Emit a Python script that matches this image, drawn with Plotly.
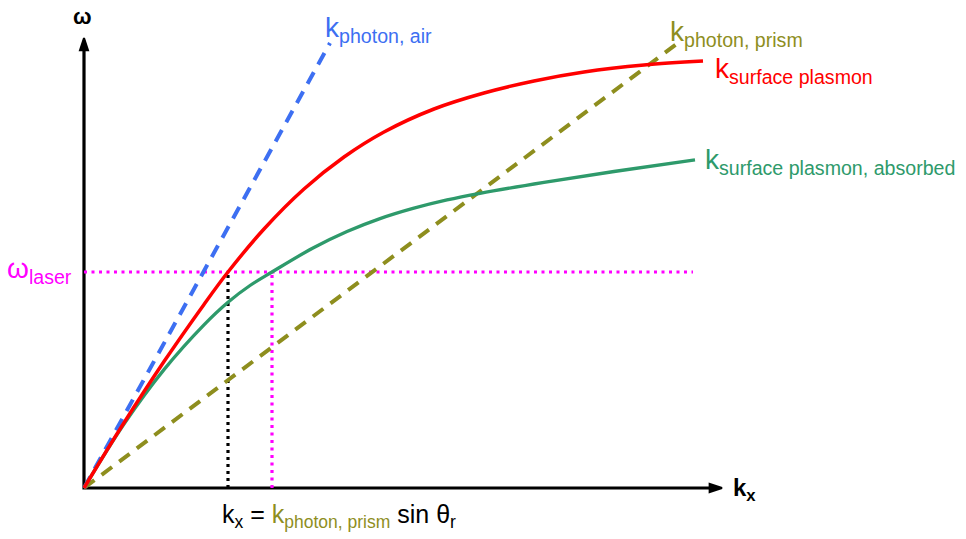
import plotly.graph_objects as go

# Dispersion curves, omega against k_x (arbitrary units)
kx_sp = [0.00, 0.40, 0.80, 1.20, 1.44, 1.80, 2.20, 2.60, 3.00, 3.50, 4.00, 4.50, 5.00, 5.60, 6.19]
w_sp = [0.00, 0.652, 1.264, 1.836, 2.16, 2.59, 2.99, 3.31, 3.56, 3.79, 3.95, 4.07, 4.16, 4.23, 4.27]

kx_sp_abs = [0.00, 0.40, 0.80, 1.20, 1.44, 1.66, 1.88, 2.29, 2.63, 2.96, 3.29, 3.63, 3.96,
             4.60, 5.30, 6.11]
w_sp_abs = [0.00, 0.64, 1.184, 1.632, 1.858, 2.025, 2.16, 2.40, 2.565, 2.694, 2.796, 2.881,
            2.947, 3.056, 3.165, 3.282]

# Light lines
kx_air = [0.00, 2.46]
w_air = [0.00, 4.45]
kx_prism = [0.00, 5.94]
w_prism = [0.00, 4.45]

# Laser frequency and matching wavevectors
w_laser = 2.16
kx_laser_end = 6.09
kx_match_sp = 1.44
kx_match_abs = 1.88

# Axes extents
kx_axis_end = 6.38
w_axis_end = 4.50

FONT = "Liberation Sans, Arial, sans-serif"
BLUE = "#3d6ff2"
RED = "#ff0000"
GREEN = "#2e9a6b"
OLIVE = "#8e8e1e"
MAGENTA = "#ff00ff"

fig = go.Figure()

# axes with arrowheads
fig.add_trace(go.Scatter(x=[kx_axis_end - 0.08, 0, 0], y=[0, 0, w_axis_end - 0.08],
                         mode="lines", line=dict(color="black", width=3.2),
                         hoverinfo="skip"))
fig.add_trace(go.Scatter(x=[kx_axis_end, 0], y=[0, w_axis_end], mode="markers",
                         marker=dict(symbol="arrow", size=13, angle=[90, 0],
                                     color="black", line=dict(color="black", width=2)),
                         hoverinfo="skip"))

# laser guide lines
fig.add_trace(go.Scatter(x=[0, kx_laser_end], y=[w_laser, w_laser], mode="lines",
                         line=dict(color=MAGENTA, width=3.2, dash="3px,4.5px")))
fig.add_trace(go.Scatter(x=[kx_match_abs, kx_match_abs], y=[0, w_laser], mode="lines",
                         line=dict(color=MAGENTA, width=3.2, dash="3px,4.5px")))
fig.add_trace(go.Scatter(x=[kx_match_sp, kx_match_sp], y=[0, w_laser], mode="lines",
                         line=dict(color="black", width=3.2, dash="3px,4px")))

# light lines
fig.add_trace(go.Scatter(x=kx_prism, y=w_prism, mode="lines",
                         line=dict(color=OLIVE, width=4, dash="13px,9px")))
fig.add_trace(go.Scatter(x=kx_air, y=w_air, mode="lines",
                         line=dict(color=BLUE, width=4, dash="13px,9px")))

# surface plasmon branches
fig.add_trace(go.Scatter(x=kx_sp_abs, y=w_sp_abs, mode="lines",
                         line=dict(color=GREEN, width=3.3, shape="spline", smoothing=1)))
fig.add_trace(go.Scatter(x=kx_sp, y=w_sp, mode="lines",
                         line=dict(color=RED, width=3.5, shape="spline", smoothing=1)))


def px_x(p):
    return (p - 84) / 100.0


def px_y(p):
    return (488 - p) / 100.0


labels = [
    ("<b>ω</b>", 82, 16, "center", 22, "black"),
    ("k<sub>photon, air</sub>", 323, 29, "left", 28, BLUE),
    ("k<sub>photon, prism</sub>", 668, 33, "left", 28, OLIVE),
    ("k<sub>surface plasmon</sub>", 713, 70, "left", 28, RED),
    ("k<sub>surface plasmon, absorbed</sub>", 703, 161, "left", 28, GREEN),
    ("ω<sub>laser</sub>", 74, 270, "right", 28, MAGENTA),
    ("<b>k<sub>x</sub></b>", 731, 489, "left", 24, "black"),
    ("k<sub>x</sub> = <span style='color:%s'>k<sub>photon, prism</sub></span> sin θ<sub>r</sub>" % OLIVE,
     339, 516, "center", 25, "black"),
]
for text, lx, ly, anchor, size, color in labels:
    fig.add_annotation(x=px_x(lx), y=px_y(ly), text=text, showarrow=False,
                       xanchor=anchor, yanchor="middle",
                       font=dict(family=FONT, size=size, color=color))

fig.update_layout(
    width=966, height=539,
    margin=dict(l=0, r=0, t=0, b=0),
    paper_bgcolor="white", plot_bgcolor="white",
    showlegend=False,
    xaxis=dict(range=[px_x(0), px_x(966)], visible=False, fixedrange=True),
    yaxis=dict(range=[px_y(539), px_y(0)], visible=False, fixedrange=True),
)

fig.write_html("out.html")
